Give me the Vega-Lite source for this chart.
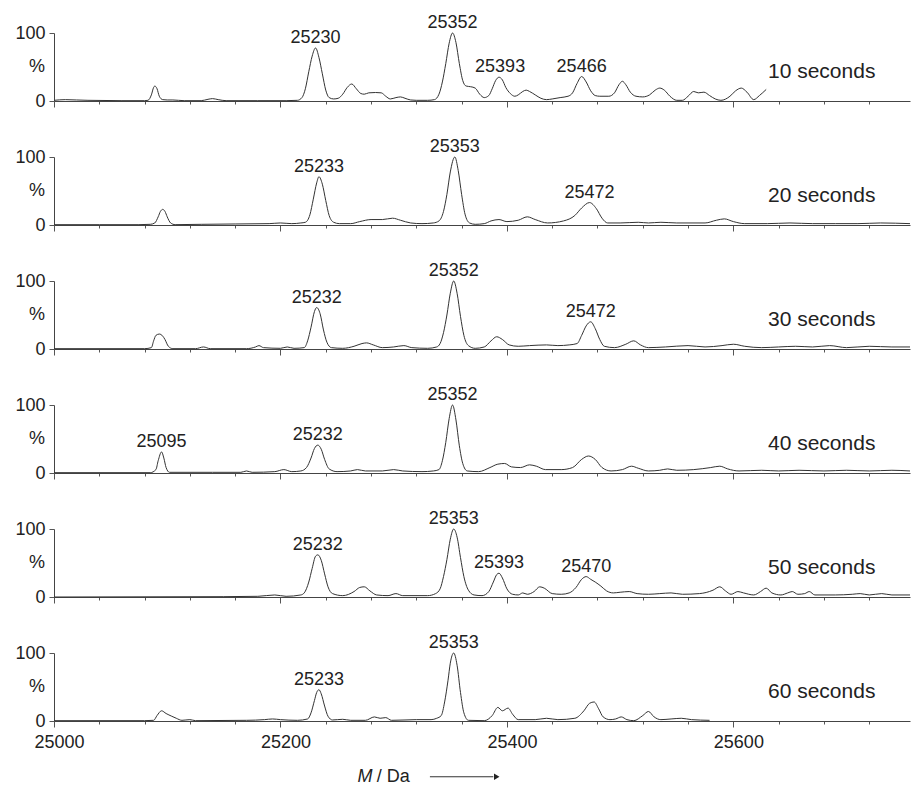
{
"$schema": "https://vega.github.io/schema/vega-lite/v6.json",
"padding": {"left": 14, "top": 14, "right": 2, "bottom": 0},
"bounds": "flush",
"spacing": 56,
"config": {"view": {"stroke": null}, "font": "Liberation Sans", "text": {"color": "#222"}},
"datasets": {
"peaks": [
{"t":10,"m":25231,"i":78,"label":"25230"},{"t":10,"m":25352,"i":100,"label":"25352"},{"t":10,"m":25394,"i":35,"label":"25393"},{"t":10,"m":25466,"i":36,"label":"25466"},
{"t":20,"m":25234,"i":71,"label":"25233"},{"t":20,"m":25354,"i":100,"label":"25353"},{"t":20,"m":25473,"i":33,"label":"25472"},
{"t":30,"m":25232,"i":61,"label":"25232"},{"t":30,"m":25353,"i":100,"label":"25352"},{"t":30,"m":25474,"i":40,"label":"25472"},
{"t":40,"m":25095,"i":31,"label":"25095"},{"t":40,"m":25233,"i":41,"label":"25232"},{"t":40,"m":25352,"i":100,"label":"25352"},
{"t":50,"m":25233,"i":62,"label":"25232"},{"t":50,"m":25353,"i":100,"label":"25353"},{"t":50,"m":25393,"i":35,"label":"25393"},{"t":50,"m":25470,"i":30,"label":"25470"},
{"t":60,"m":25234,"i":46,"label":"25233"},{"t":60,"m":25353,"i":100,"label":"25353"}
],
"spectra": [
{"t":10,"m":25000,"i":1},{"t":10,"m":25010,"i":2},{"t":10,"m":25020,"i":1.5},{"t":10,"m":25030,"i":1},{"t":10,"m":25060,"i":0.5},{"t":10,"m":25080,"i":0.5},{"t":10,"m":25083,"i":1},{"t":10,"m":25086,"i":9},{"t":10,"m":25088,"i":20},{"t":10,"m":25089,"i":22},{"t":10,"m":25091,"i":18},{"t":10,"m":25093,"i":7},{"t":10,"m":25096,"i":2},{"t":10,"m":25100,"i":1.5},{"t":10,"m":25105,"i":1.5},{"t":10,"m":25115,"i":0.5},{"t":10,"m":25130,"i":0.5},{"t":10,"m":25136,"i":2.5},{"t":10,"m":25140,"i":3.5},{"t":10,"m":25145,"i":2},{"t":10,"m":25152,"i":0.5},{"t":10,"m":25180,"i":0.5},{"t":10,"m":25205,"i":0.5},{"t":10,"m":25215,"i":1},{"t":10,"m":25219,"i":5},{"t":10,"m":25222,"i":18},{"t":10,"m":25225,"i":43},{"t":10,"m":25228,"i":66},{"t":10,"m":25231,"i":78},{"t":10,"m":25234,"i":64},{"t":10,"m":25237,"i":40},{"t":10,"m":25240,"i":16},{"t":10,"m":25243,"i":5},{"t":10,"m":25247,"i":3},{"t":10,"m":25251,"i":4},{"t":10,"m":25255,"i":10},{"t":10,"m":25259,"i":20},{"t":10,"m":25263,"i":25},{"t":10,"m":25267,"i":18},{"t":10,"m":25271,"i":11},{"t":10,"m":25274,"i":10},{"t":10,"m":25278,"i":12},{"t":10,"m":25284,"i":12.5},{"t":10,"m":25289,"i":12},{"t":10,"m":25293,"i":7},{"t":10,"m":25297,"i":3},{"t":10,"m":25302,"i":5},{"t":10,"m":25306,"i":6},{"t":10,"m":25310,"i":4},{"t":10,"m":25315,"i":1.5},{"t":10,"m":25320,"i":1},{"t":10,"m":25330,"i":1},{"t":10,"m":25336,"i":2},{"t":10,"m":25340,"i":10},{"t":10,"m":25343,"i":28},{"t":10,"m":25346,"i":55},{"t":10,"m":25349,"i":85},{"t":10,"m":25352,"i":100},{"t":10,"m":25355,"i":86},{"t":10,"m":25358,"i":55},{"t":10,"m":25361,"i":30},{"t":10,"m":25364,"i":22},{"t":10,"m":25368,"i":21},{"t":10,"m":25372,"i":19},{"t":10,"m":25376,"i":10},{"t":10,"m":25380,"i":5},{"t":10,"m":25384,"i":8},{"t":10,"m":25387,"i":18},{"t":10,"m":25390,"i":30},{"t":10,"m":25393,"i":35},{"t":10,"m":25396,"i":31},{"t":10,"m":25399,"i":20},{"t":10,"m":25403,"i":11},{"t":10,"m":25407,"i":7},{"t":10,"m":25410,"i":9},{"t":10,"m":25414,"i":14},{"t":10,"m":25417,"i":16},{"t":10,"m":25420,"i":14},{"t":10,"m":25425,"i":9},{"t":10,"m":25430,"i":4},{"t":10,"m":25435,"i":2},{"t":10,"m":25440,"i":3},{"t":10,"m":25447,"i":5},{"t":10,"m":25454,"i":7},{"t":10,"m":25458,"i":12},{"t":10,"m":25462,"i":26},{"t":10,"m":25466,"i":36},{"t":10,"m":25470,"i":28},{"t":10,"m":25474,"i":15},{"t":10,"m":25478,"i":8},{"t":10,"m":25482,"i":7},{"t":10,"m":25490,"i":7},{"t":10,"m":25495,"i":12},{"t":10,"m":25499,"i":24},{"t":10,"m":25502,"i":29},{"t":10,"m":25505,"i":24},{"t":10,"m":25509,"i":13},{"t":10,"m":25514,"i":7},{"t":10,"m":25520,"i":6},{"t":10,"m":25526,"i":9},{"t":10,"m":25531,"i":16},{"t":10,"m":25535,"i":19},{"t":10,"m":25539,"i":16},{"t":10,"m":25544,"i":7},{"t":10,"m":25550,"i":1},{"t":10,"m":25555,"i":1},{"t":10,"m":25560,"i":7},{"t":10,"m":25565,"i":14},{"t":10,"m":25569,"i":12},{"t":10,"m":25574,"i":13},{"t":10,"m":25579,"i":8},{"t":10,"m":25584,"i":3},{"t":10,"m":25589,"i":1},{"t":10,"m":25597,"i":7},{"t":10,"m":25602,"i":15},{"t":10,"m":25607,"i":19},{"t":10,"m":25612,"i":13},{"t":10,"m":25618,"i":2},{"t":10,"m":25623,"i":8},{"t":10,"m":25629,"i":17},

{"t":20,"m":25000,"i":0.5},{"t":20,"m":25040,"i":0.5},{"t":20,"m":25075,"i":0.5},{"t":20,"m":25085,"i":1},{"t":20,"m":25089,"i":3},{"t":20,"m":25092,"i":12},{"t":20,"m":25094,"i":20},{"t":20,"m":25096,"i":23},{"t":20,"m":25098,"i":20},{"t":20,"m":25100,"i":12},{"t":20,"m":25103,"i":3},{"t":20,"m":25107,"i":0.5},{"t":20,"m":25130,"i":1},{"t":20,"m":25160,"i":1.5},{"t":20,"m":25190,"i":2},{"t":20,"m":25200,"i":3},{"t":20,"m":25210,"i":2},{"t":20,"m":25218,"i":3},{"t":20,"m":25222,"i":4},{"t":20,"m":25226,"i":15},{"t":20,"m":25229,"i":38},{"t":20,"m":25232,"i":62},{"t":20,"m":25234,"i":71},{"t":20,"m":25237,"i":60},{"t":20,"m":25240,"i":36},{"t":20,"m":25243,"i":14},{"t":20,"m":25247,"i":4},{"t":20,"m":25252,"i":2},{"t":20,"m":25262,"i":2},{"t":20,"m":25270,"i":5},{"t":20,"m":25280,"i":8},{"t":20,"m":25290,"i":8},{"t":20,"m":25299,"i":10},{"t":20,"m":25306,"i":7},{"t":20,"m":25315,"i":3},{"t":20,"m":25325,"i":2},{"t":20,"m":25335,"i":3},{"t":20,"m":25340,"i":6},{"t":20,"m":25344,"i":20},{"t":20,"m":25347,"i":45},{"t":20,"m":25350,"i":78},{"t":20,"m":25354,"i":100},{"t":20,"m":25357,"i":80},{"t":20,"m":25360,"i":45},{"t":20,"m":25363,"i":16},{"t":20,"m":25367,"i":3},{"t":20,"m":25372,"i":1},{"t":20,"m":25380,"i":2},{"t":20,"m":25386,"i":6},{"t":20,"m":25393,"i":8},{"t":20,"m":25400,"i":5},{"t":20,"m":25410,"i":7},{"t":20,"m":25418,"i":12},{"t":20,"m":25425,"i":8},{"t":20,"m":25436,"i":3},{"t":20,"m":25450,"i":6},{"t":20,"m":25460,"i":14},{"t":20,"m":25466,"i":25},{"t":20,"m":25473,"i":33},{"t":20,"m":25479,"i":24},{"t":20,"m":25484,"i":10},{"t":20,"m":25489,"i":3},{"t":20,"m":25500,"i":3},{"t":20,"m":25516,"i":4},{"t":20,"m":25525,"i":3},{"t":20,"m":25536,"i":4},{"t":20,"m":25550,"i":3},{"t":20,"m":25575,"i":3},{"t":20,"m":25585,"i":7},{"t":20,"m":25592,"i":9},{"t":20,"m":25600,"i":5},{"t":20,"m":25610,"i":2},{"t":20,"m":25630,"i":2},{"t":20,"m":25650,"i":3},{"t":20,"m":25670,"i":2},{"t":20,"m":25690,"i":2},{"t":20,"m":25710,"i":2},{"t":20,"m":25730,"i":3},{"t":20,"m":25756,"i":2},

{"t":30,"m":25000,"i":0.5},{"t":30,"m":25080,"i":0.5},{"t":30,"m":25086,"i":2},{"t":30,"m":25088,"i":12},{"t":30,"m":25090,"i":20},{"t":30,"m":25093,"i":22},{"t":30,"m":25096,"i":19},{"t":30,"m":25098,"i":14},{"t":30,"m":25101,"i":4},{"t":30,"m":25105,"i":0.5},{"t":30,"m":25125,"i":0.5},{"t":30,"m":25132,"i":3},{"t":30,"m":25138,"i":0.5},{"t":30,"m":25170,"i":0.5},{"t":30,"m":25178,"i":3},{"t":30,"m":25181,"i":5},{"t":30,"m":25185,"i":2},{"t":30,"m":25200,"i":1},{"t":30,"m":25206,"i":3},{"t":30,"m":25212,"i":1},{"t":30,"m":25221,"i":2},{"t":30,"m":25224,"i":12},{"t":30,"m":25227,"i":32},{"t":30,"m":25230,"i":55},{"t":30,"m":25232,"i":61},{"t":30,"m":25235,"i":52},{"t":30,"m":25238,"i":28},{"t":30,"m":25241,"i":10},{"t":30,"m":25245,"i":2},{"t":30,"m":25255,"i":1},{"t":30,"m":25265,"i":4},{"t":30,"m":25272,"i":8},{"t":30,"m":25276,"i":9},{"t":30,"m":25282,"i":6},{"t":30,"m":25290,"i":2},{"t":30,"m":25300,"i":3},{"t":30,"m":25309,"i":5},{"t":30,"m":25316,"i":2},{"t":30,"m":25330,"i":1},{"t":30,"m":25338,"i":3},{"t":30,"m":25341,"i":8},{"t":30,"m":25344,"i":24},{"t":30,"m":25347,"i":50},{"t":30,"m":25350,"i":82},{"t":30,"m":25353,"i":100},{"t":30,"m":25356,"i":82},{"t":30,"m":25359,"i":48},{"t":30,"m":25362,"i":20},{"t":30,"m":25366,"i":5},{"t":30,"m":25372,"i":1},{"t":30,"m":25380,"i":3},{"t":30,"m":25386,"i":12},{"t":30,"m":25391,"i":18},{"t":30,"m":25396,"i":14},{"t":30,"m":25402,"i":6},{"t":30,"m":25410,"i":4},{"t":30,"m":25420,"i":5},{"t":30,"m":25435,"i":6},{"t":30,"m":25445,"i":5},{"t":30,"m":25455,"i":6},{"t":30,"m":25462,"i":8},{"t":30,"m":25466,"i":20},{"t":30,"m":25470,"i":34},{"t":30,"m":25474,"i":40},{"t":30,"m":25478,"i":30},{"t":30,"m":25482,"i":14},{"t":30,"m":25486,"i":4},{"t":30,"m":25495,"i":2},{"t":30,"m":25505,"i":7},{"t":30,"m":25512,"i":12},{"t":30,"m":25518,"i":6},{"t":30,"m":25525,"i":2},{"t":30,"m":25540,"i":3},{"t":30,"m":25560,"i":5},{"t":30,"m":25575,"i":3},{"t":30,"m":25590,"i":5},{"t":30,"m":25600,"i":7},{"t":30,"m":25610,"i":4},{"t":30,"m":25625,"i":2},{"t":30,"m":25640,"i":3},{"t":30,"m":25655,"i":4},{"t":30,"m":25670,"i":3},{"t":30,"m":25685,"i":5},{"t":30,"m":25700,"i":2},{"t":30,"m":25720,"i":4},{"t":30,"m":25740,"i":3},{"t":30,"m":25756,"i":3},

{"t":40,"m":25000,"i":0.5},{"t":40,"m":25085,"i":0.5},{"t":40,"m":25090,"i":5},{"t":40,"m":25092,"i":18},{"t":40,"m":25095,"i":31},{"t":40,"m":25097,"i":22},{"t":40,"m":25099,"i":8},{"t":40,"m":25102,"i":1},{"t":40,"m":25140,"i":1},{"t":40,"m":25165,"i":1},{"t":40,"m":25170,"i":3},{"t":40,"m":25175,"i":1},{"t":40,"m":25195,"i":2},{"t":40,"m":25203,"i":5},{"t":40,"m":25210,"i":2},{"t":40,"m":25218,"i":3},{"t":40,"m":25223,"i":8},{"t":40,"m":25227,"i":22},{"t":40,"m":25230,"i":36},{"t":40,"m":25233,"i":41},{"t":40,"m":25236,"i":35},{"t":40,"m":25239,"i":20},{"t":40,"m":25243,"i":6},{"t":40,"m":25250,"i":2},{"t":40,"m":25262,"i":3},{"t":40,"m":25268,"i":5},{"t":40,"m":25275,"i":3},{"t":40,"m":25290,"i":3},{"t":40,"m":25300,"i":5},{"t":40,"m":25308,"i":3},{"t":40,"m":25325,"i":2},{"t":40,"m":25335,"i":3},{"t":40,"m":25340,"i":5},{"t":40,"m":25343,"i":18},{"t":40,"m":25346,"i":45},{"t":40,"m":25349,"i":80},{"t":40,"m":25352,"i":100},{"t":40,"m":25355,"i":78},{"t":40,"m":25358,"i":40},{"t":40,"m":25361,"i":14},{"t":40,"m":25365,"i":3},{"t":40,"m":25375,"i":2},{"t":40,"m":25385,"i":8},{"t":40,"m":25392,"i":13},{"t":40,"m":25398,"i":14},{"t":40,"m":25404,"i":9},{"t":40,"m":25412,"i":8},{"t":40,"m":25420,"i":12},{"t":40,"m":25426,"i":10},{"t":40,"m":25434,"i":5},{"t":40,"m":25448,"i":5},{"t":40,"m":25458,"i":8},{"t":40,"m":25466,"i":20},{"t":40,"m":25472,"i":25},{"t":40,"m":25478,"i":20},{"t":40,"m":25484,"i":8},{"t":40,"m":25492,"i":3},{"t":40,"m":25502,"i":5},{"t":40,"m":25510,"i":10},{"t":40,"m":25516,"i":7},{"t":40,"m":25525,"i":3},{"t":40,"m":25535,"i":4},{"t":40,"m":25542,"i":6},{"t":40,"m":25550,"i":4},{"t":40,"m":25565,"i":5},{"t":40,"m":25580,"i":8},{"t":40,"m":25588,"i":10},{"t":40,"m":25595,"i":6},{"t":40,"m":25605,"i":3},{"t":40,"m":25625,"i":4},{"t":40,"m":25640,"i":3},{"t":40,"m":25658,"i":4},{"t":40,"m":25680,"i":3},{"t":40,"m":25700,"i":4},{"t":40,"m":25720,"i":3},{"t":40,"m":25740,"i":4},{"t":40,"m":25756,"i":3},

{"t":50,"m":25000,"i":0},{"t":50,"m":25150,"i":0.5},{"t":50,"m":25180,"i":1},{"t":50,"m":25195,"i":3},{"t":50,"m":25205,"i":1},{"t":50,"m":25218,"i":3},{"t":50,"m":25221,"i":6},{"t":50,"m":25225,"i":22},{"t":50,"m":25228,"i":42},{"t":50,"m":25231,"i":60},{"t":50,"m":25233,"i":62},{"t":50,"m":25236,"i":54},{"t":50,"m":25239,"i":34},{"t":50,"m":25242,"i":15},{"t":50,"m":25246,"i":5},{"t":50,"m":25255,"i":2},{"t":50,"m":25265,"i":8},{"t":50,"m":25270,"i":14},{"t":50,"m":25274,"i":15},{"t":50,"m":25279,"i":9},{"t":50,"m":25285,"i":3},{"t":50,"m":25295,"i":2},{"t":50,"m":25302,"i":5},{"t":50,"m":25308,"i":2},{"t":50,"m":25330,"i":2},{"t":50,"m":25337,"i":5},{"t":50,"m":25341,"i":12},{"t":50,"m":25344,"i":30},{"t":50,"m":25347,"i":55},{"t":50,"m":25350,"i":85},{"t":50,"m":25353,"i":100},{"t":50,"m":25356,"i":88},{"t":50,"m":25359,"i":58},{"t":50,"m":25362,"i":30},{"t":50,"m":25366,"i":10},{"t":50,"m":25371,"i":3},{"t":50,"m":25378,"i":2},{"t":50,"m":25384,"i":8},{"t":50,"m":25388,"i":22},{"t":50,"m":25391,"i":33},{"t":50,"m":25393,"i":35},{"t":50,"m":25396,"i":28},{"t":50,"m":25400,"i":12},{"t":50,"m":25405,"i":4},{"t":50,"m":25410,"i":3},{"t":50,"m":25414,"i":6},{"t":50,"m":25418,"i":4},{"t":50,"m":25424,"i":8},{"t":50,"m":25429,"i":15},{"t":50,"m":25433,"i":13},{"t":50,"m":25440,"i":5},{"t":50,"m":25448,"i":4},{"t":50,"m":25455,"i":6},{"t":50,"m":25461,"i":14},{"t":50,"m":25466,"i":26},{"t":50,"m":25470,"i":30},{"t":50,"m":25474,"i":26},{"t":50,"m":25478,"i":22},{"t":50,"m":25483,"i":16},{"t":50,"m":25488,"i":9},{"t":50,"m":25494,"i":6},{"t":50,"m":25500,"i":7},{"t":50,"m":25508,"i":8},{"t":50,"m":25515,"i":5},{"t":50,"m":25525,"i":4},{"t":50,"m":25535,"i":5},{"t":50,"m":25545,"i":6},{"t":50,"m":25555,"i":4},{"t":50,"m":25570,"i":5},{"t":50,"m":25582,"i":10},{"t":50,"m":25588,"i":15},{"t":50,"m":25593,"i":9},{"t":50,"m":25598,"i":4},{"t":50,"m":25604,"i":8},{"t":50,"m":25609,"i":6},{"t":50,"m":25618,"i":3},{"t":50,"m":25624,"i":8},{"t":50,"m":25629,"i":13},{"t":50,"m":25634,"i":6},{"t":50,"m":25642,"i":3},{"t":50,"m":25648,"i":6},{"t":50,"m":25652,"i":8},{"t":50,"m":25657,"i":4},{"t":50,"m":25663,"i":5},{"t":50,"m":25667,"i":8},{"t":50,"m":25672,"i":3},{"t":50,"m":25690,"i":3},{"t":50,"m":25705,"i":4},{"t":50,"m":25712,"i":5},{"t":50,"m":25720,"i":3},{"t":50,"m":25731,"i":5},{"t":50,"m":25740,"i":3},{"t":50,"m":25756,"i":3},

{"t":60,"m":25000,"i":0.5},{"t":60,"m":25080,"i":0.5},{"t":60,"m":25088,"i":1},{"t":60,"m":25091,"i":8},{"t":60,"m":25095,"i":15},{"t":60,"m":25099,"i":11},{"t":60,"m":25104,"i":7},{"t":60,"m":25108,"i":4},{"t":60,"m":25113,"i":1},{"t":60,"m":25120,"i":2},{"t":60,"m":25125,"i":0.5},{"t":60,"m":25170,"i":1},{"t":60,"m":25186,"i":2},{"t":60,"m":25193,"i":3},{"t":60,"m":25200,"i":2},{"t":60,"m":25215,"i":1},{"t":60,"m":25224,"i":3},{"t":60,"m":25227,"i":12},{"t":60,"m":25230,"i":30},{"t":60,"m":25232,"i":42},{"t":60,"m":25234,"i":46},{"t":60,"m":25236,"i":40},{"t":60,"m":25239,"i":22},{"t":60,"m":25242,"i":7},{"t":60,"m":25246,"i":1.5},{"t":60,"m":25255,"i":2.5},{"t":60,"m":25262,"i":1},{"t":60,"m":25275,"i":1},{"t":60,"m":25283,"i":6},{"t":60,"m":25288,"i":4},{"t":60,"m":25293,"i":5},{"t":60,"m":25298,"i":1},{"t":60,"m":25310,"i":1.5},{"t":60,"m":25320,"i":2},{"t":60,"m":25333,"i":2},{"t":60,"m":25338,"i":4},{"t":60,"m":25342,"i":8},{"t":60,"m":25345,"i":28},{"t":60,"m":25348,"i":60},{"t":60,"m":25350,"i":85},{"t":60,"m":25353,"i":100},{"t":60,"m":25356,"i":82},{"t":60,"m":25359,"i":42},{"t":60,"m":25362,"i":12},{"t":60,"m":25366,"i":1},{"t":60,"m":25380,"i":0.5},{"t":60,"m":25387,"i":8},{"t":60,"m":25392,"i":20},{"t":60,"m":25396,"i":15},{"t":60,"m":25401,"i":19},{"t":60,"m":25405,"i":10},{"t":60,"m":25410,"i":2},{"t":60,"m":25425,"i":2},{"t":60,"m":25435,"i":4},{"t":60,"m":25445,"i":2},{"t":60,"m":25460,"i":4},{"t":60,"m":25468,"i":15},{"t":60,"m":25473,"i":26},{"t":60,"m":25477,"i":28},{"t":60,"m":25481,"i":18},{"t":60,"m":25485,"i":6},{"t":60,"m":25491,"i":2},{"t":60,"m":25496,"i":3},{"t":60,"m":25501,"i":6},{"t":60,"m":25506,"i":2},{"t":60,"m":25512,"i":0.5},{"t":60,"m":25520,"i":8},{"t":60,"m":25525,"i":14},{"t":60,"m":25530,"i":6},{"t":60,"m":25536,"i":2},{"t":60,"m":25545,"i":3},{"t":60,"m":25554,"i":4},{"t":60,"m":25563,"i":2},{"t":60,"m":25579,"i":1}
]
},
"vconcat": [
{"width": 856, "height": 68, "layer": [
 {"data": {"name": "spectra"}, "transform": [{"filter": "datum.t == 10"}], "mark": {"type": "line", "interpolate": "monotone", "color": "#333", "strokeWidth": 1},
  "encoding": {
   "x": {"field": "m", "type": "quantitative", "scale": {"domain": [25000, 25756], "nice": false, "zero": false},
    "axis": {"title": null, "labels": false, "grid": false, "domainColor": "#444", "tickColor": "#555", "values": [25000,25010,25020,25030,25040,25050,25060,25070,25080,25090,25100,25110,25120,25130,25140,25150,25160,25170,25180,25190,25200,25210,25220,25230,25240,25250,25260,25270,25280,25290,25300,25310,25320,25330,25340,25350,25360,25370,25380,25390,25400,25410,25420,25430,25440,25450,25460,25470,25480,25490,25500,25510,25520,25530,25540,25550,25560,25570,25580,25590,25600,25610,25620,25630,25640,25650,25660,25670,25680,25690,25700,25710,25720,25730,25740,25750], "tickSize": {"condition": {"test": "datum.value % 50 === 0", "value": 6}, "value": 3}}},
   "y": {"field": "i", "type": "quantitative", "scale": {"domain": [0, 100], "nice": false},
    "axis": {"title": null, "grid": false, "domainColor": "#444", "tickColor": "#555", "values": [0,10,20,30,40,50,60,70,80,90,100], "labelExpr": "(datum.value == 0 || datum.value == 100) ? datum.label : ''", "labelFontSize": {"condition": {"test": "datum.value == 0 || datum.value == 100", "value": 18}, "value": 1}, "labelColor": "#222", "labelPadding": 4, "labelOverlap": false, "labelFlush": false, "tickSize": {"condition": {"test": "datum.value % 50 === 0", "value": 5}, "value": 3}}}
  }},
 {"data": {"name": "peaks"}, "transform": [{"filter": "datum.t == 10"}], "mark": {"type": "text", "baseline": "alphabetic", "dy": -5, "fontSize": 18},
  "encoding": {"x": {"field": "m", "type": "quantitative"}, "y": {"field": "i", "type": "quantitative"}, "text": {"field": "label"}}},
 {"data": {"values": [{}]}, "mark": {"type": "text", "fontSize": 18, "align": "right", "baseline": "middle", "dx": -9},
  "encoding": {"x": {"datum": 25000}, "y": {"datum": 50}, "text": {"value": "%"}}},
 {"data": {"values": [{}]}, "mark": {"type": "text", "fontSize": 21, "align": "center", "baseline": "middle"},
  "encoding": {"x": {"datum": 25678}, "y": {"datum": 42}, "text": {"value": "10 seconds"}}}
]},
{"width": 856, "height": 68, "layer": [
 {"data": {"name": "spectra"}, "transform": [{"filter": "datum.t == 20"}], "mark": {"type": "line", "interpolate": "monotone", "color": "#333", "strokeWidth": 1},
  "encoding": {
   "x": {"field": "m", "type": "quantitative", "scale": {"domain": [25000, 25756], "nice": false, "zero": false},
    "axis": {"title": null, "labels": false, "grid": false, "domainColor": "#444", "tickColor": "#555", "values": [25000,25010,25020,25030,25040,25050,25060,25070,25080,25090,25100,25110,25120,25130,25140,25150,25160,25170,25180,25190,25200,25210,25220,25230,25240,25250,25260,25270,25280,25290,25300,25310,25320,25330,25340,25350,25360,25370,25380,25390,25400,25410,25420,25430,25440,25450,25460,25470,25480,25490,25500,25510,25520,25530,25540,25550,25560,25570,25580,25590,25600,25610,25620,25630,25640,25650,25660,25670,25680,25690,25700,25710,25720,25730,25740,25750], "tickSize": {"condition": {"test": "datum.value % 50 === 0", "value": 6}, "value": 3}}},
   "y": {"field": "i", "type": "quantitative", "scale": {"domain": [0, 100], "nice": false},
    "axis": {"title": null, "grid": false, "domainColor": "#444", "tickColor": "#555", "values": [0,10,20,30,40,50,60,70,80,90,100], "labelExpr": "(datum.value == 0 || datum.value == 100) ? datum.label : ''", "labelFontSize": {"condition": {"test": "datum.value == 0 || datum.value == 100", "value": 18}, "value": 1}, "labelColor": "#222", "labelPadding": 4, "labelOverlap": false, "labelFlush": false, "tickSize": {"condition": {"test": "datum.value % 50 === 0", "value": 5}, "value": 3}}}
  }},
 {"data": {"name": "peaks"}, "transform": [{"filter": "datum.t == 20"}], "mark": {"type": "text", "baseline": "alphabetic", "dy": -5, "fontSize": 18},
  "encoding": {"x": {"field": "m", "type": "quantitative"}, "y": {"field": "i", "type": "quantitative"}, "text": {"field": "label"}}},
 {"data": {"values": [{}]}, "mark": {"type": "text", "fontSize": 18, "align": "right", "baseline": "middle", "dx": -9},
  "encoding": {"x": {"datum": 25000}, "y": {"datum": 50}, "text": {"value": "%"}}},
 {"data": {"values": [{}]}, "mark": {"type": "text", "fontSize": 21, "align": "center", "baseline": "middle"},
  "encoding": {"x": {"datum": 25678}, "y": {"datum": 42}, "text": {"value": "20 seconds"}}}
]},
{"width": 856, "height": 68, "layer": [
 {"data": {"name": "spectra"}, "transform": [{"filter": "datum.t == 30"}], "mark": {"type": "line", "interpolate": "monotone", "color": "#333", "strokeWidth": 1},
  "encoding": {
   "x": {"field": "m", "type": "quantitative", "scale": {"domain": [25000, 25756], "nice": false, "zero": false},
    "axis": {"title": null, "labels": false, "grid": false, "domainColor": "#444", "tickColor": "#555", "values": [25000,25010,25020,25030,25040,25050,25060,25070,25080,25090,25100,25110,25120,25130,25140,25150,25160,25170,25180,25190,25200,25210,25220,25230,25240,25250,25260,25270,25280,25290,25300,25310,25320,25330,25340,25350,25360,25370,25380,25390,25400,25410,25420,25430,25440,25450,25460,25470,25480,25490,25500,25510,25520,25530,25540,25550,25560,25570,25580,25590,25600,25610,25620,25630,25640,25650,25660,25670,25680,25690,25700,25710,25720,25730,25740,25750], "tickSize": {"condition": {"test": "datum.value % 50 === 0", "value": 6}, "value": 3}}},
   "y": {"field": "i", "type": "quantitative", "scale": {"domain": [0, 100], "nice": false},
    "axis": {"title": null, "grid": false, "domainColor": "#444", "tickColor": "#555", "values": [0,10,20,30,40,50,60,70,80,90,100], "labelExpr": "(datum.value == 0 || datum.value == 100) ? datum.label : ''", "labelFontSize": {"condition": {"test": "datum.value == 0 || datum.value == 100", "value": 18}, "value": 1}, "labelColor": "#222", "labelPadding": 4, "labelOverlap": false, "labelFlush": false, "tickSize": {"condition": {"test": "datum.value % 50 === 0", "value": 5}, "value": 3}}}
  }},
 {"data": {"name": "peaks"}, "transform": [{"filter": "datum.t == 30"}], "mark": {"type": "text", "baseline": "alphabetic", "dy": -5, "fontSize": 18},
  "encoding": {"x": {"field": "m", "type": "quantitative"}, "y": {"field": "i", "type": "quantitative"}, "text": {"field": "label"}}},
 {"data": {"values": [{}]}, "mark": {"type": "text", "fontSize": 18, "align": "right", "baseline": "middle", "dx": -9},
  "encoding": {"x": {"datum": 25000}, "y": {"datum": 50}, "text": {"value": "%"}}},
 {"data": {"values": [{}]}, "mark": {"type": "text", "fontSize": 21, "align": "center", "baseline": "middle"},
  "encoding": {"x": {"datum": 25678}, "y": {"datum": 42}, "text": {"value": "30 seconds"}}}
]},
{"width": 856, "height": 68, "layer": [
 {"data": {"name": "spectra"}, "transform": [{"filter": "datum.t == 40"}], "mark": {"type": "line", "interpolate": "monotone", "color": "#333", "strokeWidth": 1},
  "encoding": {
   "x": {"field": "m", "type": "quantitative", "scale": {"domain": [25000, 25756], "nice": false, "zero": false},
    "axis": {"title": null, "labels": false, "grid": false, "domainColor": "#444", "tickColor": "#555", "values": [25000,25010,25020,25030,25040,25050,25060,25070,25080,25090,25100,25110,25120,25130,25140,25150,25160,25170,25180,25190,25200,25210,25220,25230,25240,25250,25260,25270,25280,25290,25300,25310,25320,25330,25340,25350,25360,25370,25380,25390,25400,25410,25420,25430,25440,25450,25460,25470,25480,25490,25500,25510,25520,25530,25540,25550,25560,25570,25580,25590,25600,25610,25620,25630,25640,25650,25660,25670,25680,25690,25700,25710,25720,25730,25740,25750], "tickSize": {"condition": {"test": "datum.value % 50 === 0", "value": 6}, "value": 3}}},
   "y": {"field": "i", "type": "quantitative", "scale": {"domain": [0, 100], "nice": false},
    "axis": {"title": null, "grid": false, "domainColor": "#444", "tickColor": "#555", "values": [0,10,20,30,40,50,60,70,80,90,100], "labelExpr": "(datum.value == 0 || datum.value == 100) ? datum.label : ''", "labelFontSize": {"condition": {"test": "datum.value == 0 || datum.value == 100", "value": 18}, "value": 1}, "labelColor": "#222", "labelPadding": 4, "labelOverlap": false, "labelFlush": false, "tickSize": {"condition": {"test": "datum.value % 50 === 0", "value": 5}, "value": 3}}}
  }},
 {"data": {"name": "peaks"}, "transform": [{"filter": "datum.t == 40"}], "mark": {"type": "text", "baseline": "alphabetic", "dy": -5, "fontSize": 18},
  "encoding": {"x": {"field": "m", "type": "quantitative"}, "y": {"field": "i", "type": "quantitative"}, "text": {"field": "label"}}},
 {"data": {"values": [{}]}, "mark": {"type": "text", "fontSize": 18, "align": "right", "baseline": "middle", "dx": -9},
  "encoding": {"x": {"datum": 25000}, "y": {"datum": 50}, "text": {"value": "%"}}},
 {"data": {"values": [{}]}, "mark": {"type": "text", "fontSize": 21, "align": "center", "baseline": "middle"},
  "encoding": {"x": {"datum": 25678}, "y": {"datum": 42}, "text": {"value": "40 seconds"}}}
]},
{"width": 856, "height": 68, "layer": [
 {"data": {"name": "spectra"}, "transform": [{"filter": "datum.t == 50"}], "mark": {"type": "line", "interpolate": "monotone", "color": "#333", "strokeWidth": 1},
  "encoding": {
   "x": {"field": "m", "type": "quantitative", "scale": {"domain": [25000, 25756], "nice": false, "zero": false},
    "axis": {"title": null, "labels": false, "grid": false, "domainColor": "#444", "tickColor": "#555", "values": [25000,25010,25020,25030,25040,25050,25060,25070,25080,25090,25100,25110,25120,25130,25140,25150,25160,25170,25180,25190,25200,25210,25220,25230,25240,25250,25260,25270,25280,25290,25300,25310,25320,25330,25340,25350,25360,25370,25380,25390,25400,25410,25420,25430,25440,25450,25460,25470,25480,25490,25500,25510,25520,25530,25540,25550,25560,25570,25580,25590,25600,25610,25620,25630,25640,25650,25660,25670,25680,25690,25700,25710,25720,25730,25740,25750], "tickSize": {"condition": {"test": "datum.value % 50 === 0", "value": 6}, "value": 3}}},
   "y": {"field": "i", "type": "quantitative", "scale": {"domain": [0, 100], "nice": false},
    "axis": {"title": null, "grid": false, "domainColor": "#444", "tickColor": "#555", "values": [0,10,20,30,40,50,60,70,80,90,100], "labelExpr": "(datum.value == 0 || datum.value == 100) ? datum.label : ''", "labelFontSize": {"condition": {"test": "datum.value == 0 || datum.value == 100", "value": 18}, "value": 1}, "labelColor": "#222", "labelPadding": 4, "labelOverlap": false, "labelFlush": false, "tickSize": {"condition": {"test": "datum.value % 50 === 0", "value": 5}, "value": 3}}}
  }},
 {"data": {"name": "peaks"}, "transform": [{"filter": "datum.t == 50"}], "mark": {"type": "text", "baseline": "alphabetic", "dy": -5, "fontSize": 18},
  "encoding": {"x": {"field": "m", "type": "quantitative"}, "y": {"field": "i", "type": "quantitative"}, "text": {"field": "label"}}},
 {"data": {"values": [{}]}, "mark": {"type": "text", "fontSize": 18, "align": "right", "baseline": "middle", "dx": -9},
  "encoding": {"x": {"datum": 25000}, "y": {"datum": 50}, "text": {"value": "%"}}},
 {"data": {"values": [{}]}, "mark": {"type": "text", "fontSize": 21, "align": "center", "baseline": "middle"},
  "encoding": {"x": {"datum": 25678}, "y": {"datum": 42}, "text": {"value": "50 seconds"}}}
]},
{"width": 856, "height": 68, "layer": [
 {"data": {"name": "spectra"}, "transform": [{"filter": "datum.t == 60"}], "mark": {"type": "line", "interpolate": "monotone", "color": "#333", "strokeWidth": 1},
  "encoding": {
   "x": {"field": "m", "type": "quantitative", "scale": {"domain": [25000, 25756], "nice": false, "zero": false},
    "axis": {"title": null, "labels": true, "grid": false, "domainColor": "#444", "tickColor": "#555", "values": [25000,25010,25020,25030,25040,25050,25060,25070,25080,25090,25100,25110,25120,25130,25140,25150,25160,25170,25180,25190,25200,25210,25220,25230,25240,25250,25260,25270,25280,25290,25300,25310,25320,25330,25340,25350,25360,25370,25380,25390,25400,25410,25420,25430,25440,25450,25460,25470,25480,25490,25500,25510,25520,25530,25540,25550,25560,25570,25580,25590,25600,25610,25620,25630,25640,25650,25660,25670,25680,25690,25700,25710,25720,25730,25740,25750], "tickSize": {"condition": {"test": "datum.value % 50 === 0", "value": 6}, "value": 3}, "format": "d", "labelExpr": "datum.value % 200 === 0 ? datum.label : ''", "labelFontSize": 18, "labelColor": "#222", "labelOffset": 5, "labelPadding": 6, "labelOverlap": false, "labelFlush": false}},
   "y": {"field": "i", "type": "quantitative", "scale": {"domain": [0, 100], "nice": false},
    "axis": {"title": null, "grid": false, "domainColor": "#444", "tickColor": "#555", "values": [0,10,20,30,40,50,60,70,80,90,100], "labelExpr": "(datum.value == 0 || datum.value == 100) ? datum.label : ''", "labelFontSize": {"condition": {"test": "datum.value == 0 || datum.value == 100", "value": 18}, "value": 1}, "labelColor": "#222", "labelPadding": 4, "labelOverlap": false, "labelFlush": false, "tickSize": {"condition": {"test": "datum.value % 50 === 0", "value": 5}, "value": 3}}}
  }},
 {"data": {"name": "peaks"}, "transform": [{"filter": "datum.t == 60"}], "mark": {"type": "text", "baseline": "alphabetic", "dy": -5, "fontSize": 18},
  "encoding": {"x": {"field": "m", "type": "quantitative"}, "y": {"field": "i", "type": "quantitative"}, "text": {"field": "label"}}},
 {"data": {"values": [{}]}, "mark": {"type": "text", "fontSize": 18, "align": "right", "baseline": "middle", "dx": -9},
  "encoding": {"x": {"datum": 25000}, "y": {"datum": 50}, "text": {"value": "%"}}},
 {"data": {"values": [{}]}, "mark": {"type": "text", "fontSize": 21, "align": "center", "baseline": "middle"},
  "encoding": {"x": {"datum": 25678}, "y": {"datum": 42}, "text": {"value": "60 seconds"}}},
 {"data": {"values": [{}]}, "mark": {"type": "text", "fontSize": 18, "align": "left", "baseline": "middle", "fontStyle": "italic"},
  "encoding": {"x": {"datum": 25268}, "y": {"datum": -82}, "text": {"value": "M"}}},
 {"data": {"values": [{}]}, "mark": {"type": "text", "fontSize": 18, "align": "left", "baseline": "middle"},
  "encoding": {"x": {"datum": 25285}, "y": {"datum": -82}, "text": {"value": "/ Da"}}},
 {"data": {"values": [{}]}, "mark": {"type": "rule", "color": "#333", "strokeWidth": 1},
  "encoding": {"x": {"datum": 25332}, "x2": {"datum": 25388}, "y": {"datum": -82}}},
 {"data": {"values": [{}]}, "mark": {"type": "point", "shape": "triangle-right", "filled": true, "color": "#222", "size": 40, "opacity": 1},
  "encoding": {"x": {"datum": 25391}, "y": {"datum": -82}}}
]}
]
}
